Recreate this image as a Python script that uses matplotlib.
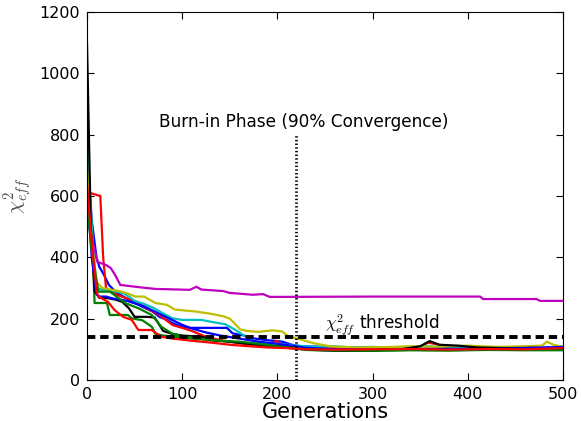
import matplotlib
matplotlib.use("Agg")
import matplotlib.pyplot as plt

plt.rcParams['mathtext.fontset'] = 'cm'
plt.rcParams['lines.scale_dashes'] = False

# generation / chi2_eff pairs, one walker per list
gen_b1 = [0, 5, 10, 13, 18, 23, 30, 38, 48, 58, 69, 76, 84, 90, 96, 108, 130, 147, 153, 165, 174, 189,
          205, 215, 225, 250, 280, 310, 340, 370, 400, 430, 460, 490, 500]
chi_b1 = [760, 520, 400, 369, 342, 310, 288, 272, 255, 239, 223, 206, 196, 185, 178, 170, 170, 170, 152, 145, 136, 130,
          125, 115, 110, 108, 106, 105, 104, 103, 104, 107, 106, 105, 106]

gen_g1 = [0, 5, 8, 21, 24, 43, 47, 58, 68, 72, 80, 95, 110, 130, 150, 170, 190, 210, 230, 260, 300, 340, 380,
          420, 460, 500]
chi_g1 = [720, 500, 251, 251, 212, 212, 201, 195, 174, 150, 145, 140, 135, 130, 125, 118, 112, 105, 98, 95, 95, 97, 96,
          98, 97, 98]

gen_r1 = [0, 3, 14, 17, 20, 25, 30, 38, 48, 62, 76, 90, 100, 110, 125, 140, 160, 180, 192, 199, 205, 220, 240,
          270, 300, 330, 350, 358, 365, 380, 410, 440, 470, 500]
chi_r1 = [660, 610, 600, 400, 300, 290, 280, 270, 261, 235, 212, 179, 170, 160, 141, 130, 120, 112, 110, 128, 112, 108, 104,
          103, 104, 102, 105, 122, 118, 108, 104, 103, 104, 102]

gen_c = [0, 5, 10, 15, 25, 38, 45, 50, 60, 70, 80, 90, 100, 120, 130, 145, 155, 165, 175, 185, 200, 220, 240,
         260, 280, 300, 320, 340, 360, 380, 400, 420, 440]
chi_c = [810, 500, 300, 295, 292, 283, 270, 258, 248, 235, 217, 201, 196, 196, 190, 182, 165, 145, 128, 120, 118, 112, 108,
         110, 106, 108, 105, 108, 110, 105, 103, 102, 102]

gen_m = [0, 6, 11, 20, 25, 30, 35, 51, 62, 72, 108, 115, 120, 143, 150, 174, 185, 192, 206, 300, 413, 416, 472,
         476, 500]
chi_m = [528, 450, 385, 375, 365, 340, 310, 304, 300, 297, 294, 304, 295, 290, 284, 278, 280, 271, 271, 272, 272, 264, 264,
         258, 258]

gen_y = [0, 5, 10, 16, 28, 34, 42, 51, 60, 72, 84, 92, 98, 115, 130, 143, 150, 155, 161, 168, 180, 195, 205,
         212, 220, 238, 255, 280, 310, 340, 370, 400, 430, 460, 478, 483, 490, 500]
chi_y = [700, 450, 320, 300, 293, 290, 283, 272, 272, 251, 245, 230, 228, 223, 216, 208, 200, 185, 165, 160, 157, 162, 158,
         142, 136, 120, 110, 106, 107, 110, 108, 112, 108, 110, 112, 125, 115, 108]

gen_k = [0, 4, 8, 13, 20, 30, 37, 44, 50, 62, 71, 74, 80, 90, 100, 122, 130, 150, 170, 190, 210, 225, 240,
         270, 300, 330, 350, 360, 370, 390, 410, 440, 470, 500]
chi_k = [1100, 500, 290, 268, 268, 262, 255, 234, 206, 206, 204, 190, 160, 150, 145, 140, 130, 125, 118, 112, 108, 103, 98,
         96, 97, 100, 110, 127, 115, 112, 106, 104, 105, 100]

gen_b2 = [0, 5, 10, 13, 20, 27, 35, 42, 50, 60, 70, 80, 90, 100, 110, 125, 140, 160, 180, 200, 215, 230, 260,
          300, 340, 380, 420, 460, 500]
chi_b2 = [620, 400, 280, 272, 272, 266, 262, 258, 250, 240, 225, 210, 195, 180, 168, 155, 145, 135, 125, 118, 112, 105, 100,
          98, 100, 102, 100, 104, 108]

gen_g2 = [0, 5, 12, 24, 29, 40, 54, 68, 78, 89, 103, 120, 140, 160, 180, 200, 215, 230, 260, 300, 340, 380, 420,
          460, 500]
chi_g2 = [580, 420, 288, 288, 277, 251, 234, 212, 174, 152, 141, 135, 128, 125, 118, 110, 105, 100, 97, 96, 98, 97, 99,
          98, 97]

gen_r2 = [0, 5, 10, 12, 22, 29, 38, 47, 54, 68, 78, 90, 110, 130, 150, 170, 190, 210, 230, 260, 300, 340, 380,
          420, 460, 500]
chi_r2 = [640, 450, 290, 272, 255, 228, 206, 196, 163, 163, 141, 135, 128, 122, 115, 110, 106, 104, 100, 99, 100, 101, 99,
          101, 100, 104]

walkers = [(gen_b1, chi_b1, 'b'), (gen_g1, chi_g1, 'g'), (gen_r1, chi_r1, 'r'), (gen_c, chi_c, 'c'),
           (gen_m, chi_m, 'm'), (gen_y, chi_y, 'y'), (gen_k, chi_k, 'k'), (gen_b2, chi_b2, 'b'),
           (gen_g2, chi_g2, 'g'), (gen_r2, chi_r2, 'r')]
colors = {'b': (0, 0, 1), 'g': (0, 0.5, 0), 'r': (1, 0, 0), 'c': (0, 0.75, 0.75),
          'm': (0.75, 0, 0.75), 'y': (0.75, 0.75, 0), 'k': (0, 0, 0)}

threshold = 140
burn_in = 220

fig = plt.figure(figsize=(5.81, 4.21), dpi=100)
ax = fig.add_axes([0.1497, 0.0974, 0.8193, 0.8741])

for g, c, col in walkers:
    ax.plot(g, c, color=colors[col], lw=1.6)

ax.axhline(threshold, color='k', lw=2.8, ls='--', dashes=(6, 3.5))
ax.vlines(burn_in, 0, 800, color='k', lw=2, linestyles=':')

ax.text(228, 840, 'Burn-in Phase (90% Convergence)', ha='center', va='center', fontsize=12.2)
ax.text(250, 163, r'$\chi^2_{eff}$ threshold', ha='left', va='baseline', fontsize=12.2)

ax.set_xlim(0, 500)
ax.set_ylim(0, 1200)
ax.set_xticks([0, 100, 200, 300, 400, 500])
ax.set_yticks([0, 200, 400, 600, 800, 1000, 1200])
ax.tick_params(direction='in', top=True, right=True, labelsize=11.5, length=5, pad=5)
ax.set_xlabel('Generations', fontsize=15, labelpad=0)
ax.set_ylabel(r'$\chi^2_{eff}$', fontsize=15, color='0.3')

fig.savefig('out.png', dpi=100)
